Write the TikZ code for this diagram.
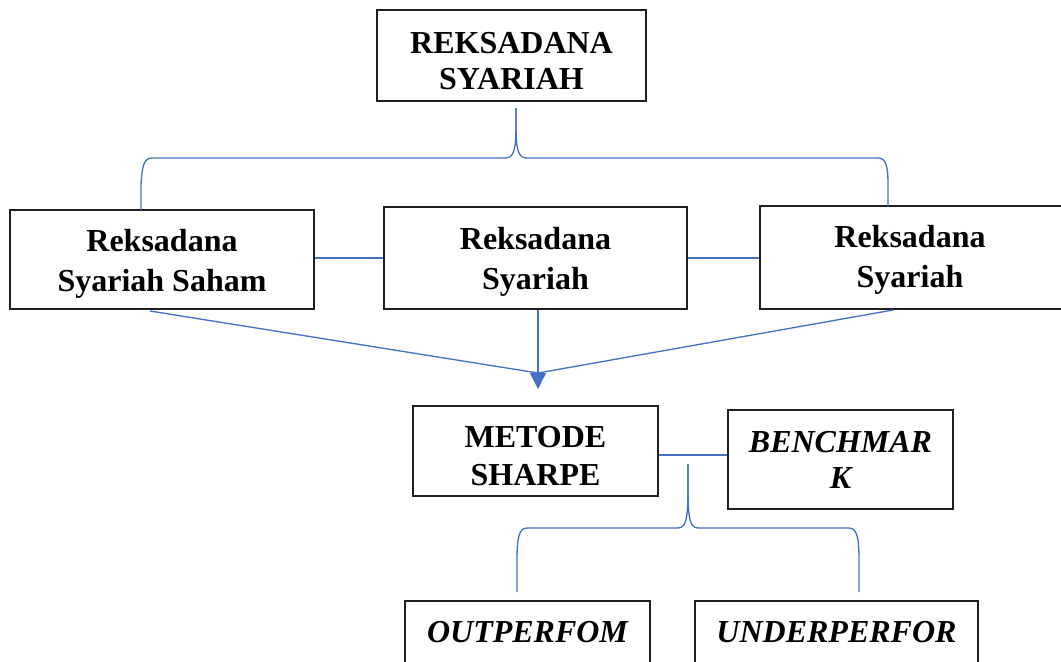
\documentclass[tikz,border=0pt]{standalone}
\usepackage{fontspec}
\setmainfont{Liberation Serif}
\usetikzlibrary{arrows.meta,calc}
\definecolor{lineblue}{HTML}{4472C4}
\definecolor{boxgray}{HTML}{202020}
\tikzset{
  box/.style={draw=boxgray, line width=0.9pt, inner sep=0pt},
  txt/.style={align=center, inner sep=0pt, font=\fontsize{24}{#1}\selectfont\bfseries},
  itxt/.style={align=center, inner sep=0pt, font=\fontsize{24}{#1}\selectfont\bfseries\itshape},
  conn/.style={draw=lineblue, line width=1pt},
}
\begin{document}
\begin{tikzpicture}[x=0.75pt,y=-0.75pt]
\useasboundingbox (0,0) rectangle (1061,661);
\clip (0,0) rectangle (1061,661);
% boxes
\node[box, minimum width=201.75pt, minimum height=68.25pt] (T) at (511.5,55.5) {};
\node[txt=27pt] (Tt) at ([yshift=-4pt]T.center) {REKSADANA\\SYARIAH};
\node[box, minimum width=228pt, minimum height=74.25pt] (L) at (162,259.5) {};
\node[txt=30pt] (Lt) at ([yshift=-3.2pt]L.center) {Reksadana\\Syariah Saham};
\node[box, minimum width=227.25pt, minimum height=76.5pt] (M) at (535.5,258) {};
\node[txt=30pt] (Mt) at ([yshift=-2.6pt]M.center) {Reksadana\\Syariah};
\node[box, minimum width=232.5pt, minimum height=77.25pt] (R) at (915,257.5) {};
\node[txt=30pt] (Rt) at ([xshift=-3.75pt,yshift=-1.9pt]R.center) {Reksadana\\Syariah};
\node[box, minimum width=183.75pt, minimum height=67.5pt] (MS) at (535.5,451) {};
\node[txt=28.5pt] (MSt) at ([yshift=-3.5pt]MS.center) {METODE\\SHARPE};
\node[box, minimum width=168.75pt, minimum height=74.25pt] (BM) at (840.5,459.5) {};
\node[itxt=27pt] (BMt) at ([yshift=0pt]BM.center) {BENCHMAR\\K};
\node[box, minimum width=183.75pt, minimum height=46.5pt] (O) at (527.5,632) {};
\node[itxt=28pt] (Ot) at (O.center) {OUTPERFOM};
\node[box, minimum width=212.25pt, minimum height=46.5pt] (U) at (836.5,632) {};
\node[itxt=28pt] (Ut) at (U.center) {UNDERPERFOR};
% side connectors
\draw[conn] (L.east |- 0,258) -- (M.west |- 0,258);
\draw[conn] (M.east |- 0,258) -- (R.west |- 0,258);
\draw[conn] ([yshift=-3pt]MS.east) -- ([yshift=-3pt]MS.east -| BM.west);
% top brace
\coordinate (tb) at (516,108);
\coordinate (bl) at (141,210);
\coordinate (br) at (888,206);
\draw[conn] (tb) -- (516,124) .. controls (516,150) and (514,158) .. (505,158)
  -- (152,158) .. controls (144,158) and (142,166) .. (141,185) -- (bl);
\draw[conn] (tb) -- (516,124) .. controls (516,150) and (518,158) .. (527,158)
  -- (878,158) .. controls (886,158) and (888,166) .. (888,185) -- (br);
% arrows to METODE SHARPE
\coordinate (meet) at (538,373);
\coordinate (lb) at (150,311);
\coordinate (rb) at (893,310);
\draw[conn] (lb) -- (meet);
\draw[conn] (rb) -- (meet);
\draw[conn, -{Triangle[length=12pt,width=12pt]}] (M.south -| meet) -- (538,389);
% lower brace
\coordinate (lt) at (688,464);
\coordinate (ol) at (517,592);
\coordinate (ur) at (859,592);
\draw[conn] (lt) -- (688,484) .. controls (688,515) and (687,528) .. (678,528)
  -- (527,528) .. controls (519,528) and (517,538) .. (517,560) -- (ol);
\draw[conn] (lt) -- (688,484) .. controls (688,515) and (689,528) .. (698,528)
  -- (849,528) .. controls (857,528) and (859,538) .. (859,560) -- (ur);
\end{tikzpicture}
\end{document}
